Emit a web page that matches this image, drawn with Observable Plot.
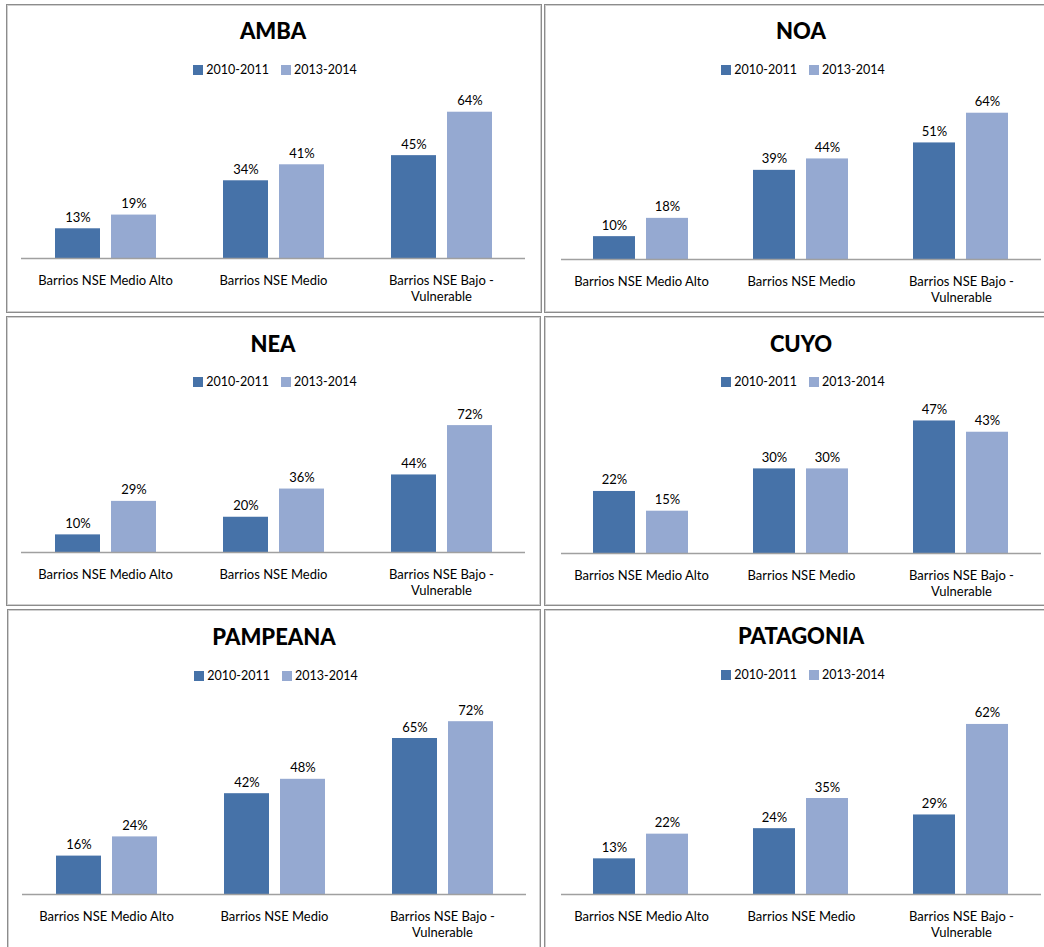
<!DOCTYPE html>
<html>
<head>
<meta charset="utf-8">
<script src="https://cdn.jsdelivr.net/npm/d3@7"></script>
<script src="https://cdn.jsdelivr.net/npm/@observablehq/plot@0.6"></script>
<style>
  html, body { margin: 0; padding: 0; background: #fff; overflow: hidden; }
  #page { position: relative; width: 1044px; height: 947px; overflow: hidden; background: #fff; font-family: Lato, "Open Sans", sans-serif; }
  .box { position: absolute; box-sizing: border-box; border: 1px solid #8c8c8c; box-shadow: inset 0 0 0 1px #d0d0d0; }
  .title { position: absolute; text-align: center; font-weight: 900; font-size: 22px; line-height: 22px; color: #000; }
  .legend { position: absolute; display: flex; justify-content: center; align-items: center; height: 16px; font-size: 12.5px; line-height: 16px; color: #000; }
  .legend .item { display: flex; align-items: center; margin: 0 6px; }
  .legend .sw { width: 10px; height: 10px; margin-right: 3px; }
  .chart { position: absolute; }
</style>
</head>
<body>
<div id="page"></div>
<script>
// ---- data ----
const regions = ["AMBA", "NOA", "NEA", "CUYO", "PAMPEANA", "PATAGONIA"];
const categories = ["Barrios NSE Medio Alto", "Barrios NSE Medio", "Barrios NSE Bajo - Vulnerable"];
const categoryLabels = ["Barrios NSE Medio Alto", "Barrios NSE Medio", "Barrios NSE Bajo -\nVulnerable"];
const series = ["2010-2011", "2013-2014"];
const colors = ["#4672A8", "#95A9D1"];

const amba2010 = [13, 34, 45],      amba2013 = [19, 41, 64];
const noa2010 = [10, 39, 51],       noa2013 = [18, 44, 64];
const nea2010 = [10, 20, 44],       nea2013 = [29, 36, 72];
const cuyo2010 = [22, 30, 47],      cuyo2013 = [15, 30, 43];
const pampeana2010 = [16, 42, 65],  pampeana2013 = [24, 48, 72];
const patagonia2010 = [13, 24, 29], patagonia2013 = [22, 35, 62];

const regionValues = {
  AMBA: [amba2010, amba2013],
  NOA: [noa2010, noa2013],
  NEA: [nea2010, nea2013],
  CUYO: [cuyo2010, cuyo2013],
  PAMPEANA: [pampeana2010, pampeana2013],
  PATAGONIA: [patagonia2010, patagonia2013]
};
const yMax = {AMBA: 70, NOA: 70, NEA: 80, CUYO: 50, PAMPEANA: 80, PATAGONIA: 70};

// ---- layout ----
const layout = {
  AMBA:      {box: [6, 4, 536, 309],   axis: [20, 526],  baseline: 258, titleY: 32,  legendY: 70,  plotH: 160},
  NOA:       {box: [544, 4, 520, 309], axis: [561, 1041], baseline: 259, titleY: 32,  legendY: 70,  plotH: 160},
  NEA:       {box: [6, 316, 535, 290], axis: [20, 526],  baseline: 552, titleY: 345, legendY: 382, plotH: 141},
  CUYO:      {box: [544, 316, 520, 290], axis: [561, 1041], baseline: 553, titleY: 345, legendY: 382, plotH: 141},
  PAMPEANA:  {box: [7, 609, 534, 400], axis: [21, 527],  baseline: 894, titleY: 638, legendY: 676, plotH: 192},
  PATAGONIA: {box: [544, 609, 520, 400], axis: [561, 1041], baseline: 894, titleY: 637, legendY: 675, plotH: 192}
};

const page = document.getElementById("page");
const mT = 30, mB = 50;

for (const name of regions) {
  const L = layout[name];
  const box = document.createElement("div");
  box.className = "box";
  Object.assign(box.style, {left: L.box[0] + "px", top: L.box[1] + "px", width: L.box[2] + "px", height: L.box[3] + "px"});
  page.appendChild(box);

  const w = L.axis[1] - L.axis[0];

  const title = document.createElement("div");
  title.className = "title";
  title.textContent = name;
  Object.assign(title.style, {left: L.axis[0] + "px", width: w + "px", top: (L.titleY - 12) + "px"});
  page.appendChild(title);

  const legend = document.createElement("div");
  legend.className = "legend";
  Object.assign(legend.style, {left: (L.axis[0] + 2) + "px", width: w + "px", top: (L.legendY - 8) + "px"});
  series.forEach((s, i) => {
    const item = document.createElement("div");
    item.className = "item";
    const sw = document.createElement("span");
    sw.className = "sw";
    sw.style.background = colors[i];
    const t = document.createElement("span");
    t.textContent = s;
    item.appendChild(sw); item.appendChild(t);
    legend.appendChild(item);
  });
  page.appendChild(legend);

  const data = [];
  categories.forEach((c, ci) => series.forEach((s, si) => data.push({category: c, series: s, value: regionValues[name][si][ci]})));

  const chart = Plot.plot({
    width: w,
    height: mT + L.plotH + mB,
    marginTop: mT, marginBottom: mB, marginLeft: 0, marginRight: 0,
    style: {fontFamily: "Lato, 'Open Sans', sans-serif", fontSize: "13px", color: "#000", background: "transparent", overflow: "visible"},
    fx: {domain: categories, padding: 0},
    x: {domain: series, paddingInner: 0.2, paddingOuter: 0.59, axis: null},
    y: {domain: [0, yMax[name]], axis: null},
    color: {domain: series, range: colors},
    marks: [
      Plot.barY(data, {fx: "category", x: "series", y: "value", fill: "series"}),
      Plot.ruleY([0], {stroke: "#a0a0a0", strokeWidth: 1.5}),
      Plot.text(data, {fx: "category", x: "series", y: "value", text: d => d.value + "%", dy: -7, lineAnchor: "bottom", fontSize: 13, fill: "#000"}),
      Plot.axisFx({anchor: "bottom", tickSize: 0, tickPadding: 14, fontSize: 13, lineHeight: 1.3, label: null, fill: "#000",
        tickFormat: c => categoryLabels[categories.indexOf(c)]})
    ]
  });
  chart.classList.add("chart");
  Object.assign(chart.style, {left: L.axis[0] + "px", top: (L.baseline - L.plotH - mT) + "px"});
  page.appendChild(chart);
}
</script>
</body>
</html>
